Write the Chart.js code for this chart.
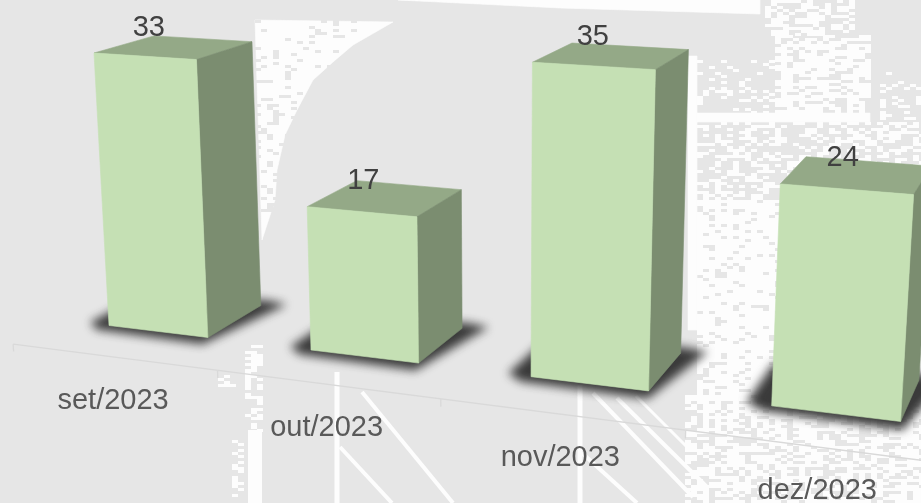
<!DOCTYPE html>
<html>
<head>
<meta charset="utf-8">
<title>3D bars</title>
<script src="https://cdn.jsdelivr.net/npm/chart.js@4"></script>
<style>
    body { margin: 0; background: #e6e6e6; }
    #wrap { width: 921px; height: 503px; overflow: hidden; }
</style>
</head>
<body>
<div id="wrap"><canvas id="barChart" width="921" height="503"></canvas></div>
<script>
const categories = ["set/2023", "out/2023", "nov/2023", "dez/2023"]
const values = [33, 17, 35, 24]

const frontColor = "#c5e0b4"
const topColor = "#94a987"
const sideColor = "#7b8d70"
const valueColor = "#404040"
const axisLabelColor = "#595959"
const axisLineColor = "#d9d9d9"

// camera: category position t, value v, depth z -> screen
const rowX = [109, 189.25, -0.5598, 66.2]
const rowY = [325.5, 10.15, -8.317, -14.5]
const rowW = [1, -0.041, -0.00112, 0.055]
const axisDepth = -0.74

function project(t, v, z){
    const w = rowW[0] + rowW[1] * t + rowW[2] * v + rowW[3] * z
    return {
        x: (rowX[0] + rowX[1] * t + rowX[2] * v + rowX[3] * z) / w,
        y: (rowY[0] + rowY[1] * t + rowY[2] * v + rowY[3] * z) / w
    }
}

function fillPoly(ctx, pts, color){
    ctx.beginPath()
    pts.forEach((p, i) => {
        if(i == 0){ ctx.moveTo(p.x, p.y) }else{ ctx.lineTo(p.x, p.y) }
    })
    ctx.closePath()
    ctx.fillStyle = color
    ctx.fill()
    ctx.strokeStyle = color
    ctx.lineWidth = 0.6
    ctx.stroke()
}

// backdrop picture behind the chart, only a rough copy of it
const paperColor = "#fdfdfd"
const wallColor = "#e6e6e6"
const whitePatches = [
    [[255, 20], [393, 22], [353, 45], [333, 62], [313, 80], [297, 110], [285, 135], [277, 170], [275, 200], [262, 240]],
    [[398, 0], [760, 0], [760, 14], [560, 8]],
    [[690, 113], [870, 113], [870, 122], [690, 122]],
    [[688, 56], [697, 56], [697, 330], [688, 330]]
]
// x, y, w, h, share of cells painted, colour
const speckleAreas = [
    [255, 20, 100, 60, 0.12, wallColor],
    [255, 80, 50, 130, 0.2, wallColor],
    [765, 0, 90, 35, 0.5, paperColor],
    [775, 35, 95, 78, 0.72, paperColor],
    [697, 60, 78, 52, 0.22, paperColor],
    [697, 122, 223, 78, 0.42, paperColor],
    [697, 200, 90, 200, 0.84, paperColor],
    [685, 395, 236, 108, 0.62, paperColor],
    [880, 60, 41, 60, 0.15, paperColor],
    [245, 345, 18, 85, 0.4, paperColor],
    [218, 372, 14, 16, 0.3, paperColor],
    [232, 440, 12, 63, 0.3, paperColor]
]
const whiteLines = [
    [[255, 430], [255, 503], 14],
    [[337, 372], [337, 503], 5],
    [[362, 392], [453, 503], 4],
    [[340, 447], [392, 503], 4],
    [[580, 385], [580, 503], 5],
    [[593, 393], [693, 497], 4],
    [[617, 398], [707, 487], 4],
    [[582, 453], [637, 503], 4],
    [[636, 396], [690, 450], 3]
]

const backdrop = {
    id: "backdrop",
    beforeDraw(chart){
        const ctx = chart.ctx
        ctx.save()
        whitePatches.forEach(patch => {
            fillPoly(ctx, patch.map(p => ({ x: p[0], y: p[1] })), paperColor)
        })
        speckleAreas.forEach(area => {
            ctx.fillStyle = area[5]
            for(var x = area[0]; x < area[0] + area[2]; x += 6){
                for(var y = area[1]; y < area[1] + area[3]; y += 3){
                    // fixed hash so the speckle stays the same every time
                    const hash = Math.abs(Math.sin(x * 12.9898 + y * 78.233) * 43758.5453) % 1
                    if(hash < area[4]){ ctx.fillRect(x, y, 6, 3) }
                }
            }
        })
        ctx.strokeStyle = paperColor
        whiteLines.forEach(line => {
            ctx.lineWidth = line[2]
            ctx.beginPath()
            ctx.moveTo(line[0][0], line[0][1])
            ctx.lineTo(line[1][0], line[1][1])
            ctx.stroke()
        })
        ctx.restore()
    }
}

const bars3d = {
    id: "bars3d",
    // the flat bars are replaced by the boxes below
    beforeDatasetDraw(chart){
        const ctx = chart.ctx
        const meta = chart.getDatasetMeta(0)
        const xScale = chart.scales.x
        const yScale = chart.scales.y
        const catWidth = xScale.width / categories.length
        const boxes = meta.data.map(bar => ({
            t0: (bar.x - bar.width / 2 - xScale.left) / catWidth - 0.25,
            t1: (bar.x + bar.width / 2 - xScale.left) / catWidth - 0.25,
            mid: (bar.x - xScale.left) / catWidth - 0.25,
            v: yScale.getValueForPixel(bar.y),
            base: yScale.getValueForPixel(bar.base)
        }))

        ctx.save()

        // axis line and ticks on the floor
        const tLeft = -0.25
        const tRight = (xScale.right - xScale.left) / catWidth - 0.25
        ctx.strokeStyle = axisLineColor
        ctx.lineWidth = 1.3
        ctx.beginPath()
        const a = project(tLeft, 0, axisDepth)
        const b = project(tRight, 0, axisDepth)
        ctx.moveTo(a.x, a.y)
        ctx.lineTo(b.x, b.y)
        categories.forEach((c, i) => {
            const t = i - 0.25
            const p = project(t, 0, axisDepth)
            const q = project(t, -0.9, axisDepth)
            ctx.moveTo(p.x, p.y)
            ctx.lineTo(q.x, q.y)
        })
        ctx.stroke()

        // soft shadows
        ctx.filter = "blur(5px)"
        boxes.forEach(box => {
            const s = [
                project(box.t0 - 0.1, box.base, 0.02),
                project(box.t0 - 0.02, box.base, -0.13),
                project(box.t1 + 0.02, box.base, -0.17),
                project(box.t1 + 0.1, box.base, 1.1),
                project(box.t1, box.base, 1.15),
                project(box.t0 - 0.1, box.base, 1)
            ]
            fillPoly(ctx, s, "#3a3a3a")
        })
        ctx.filter = "none"

        boxes.forEach(box => {
            fillPoly(ctx, [project(box.t0, box.v, 0), project(box.t0, box.v, 1), project(box.t1, box.v, 1), project(box.t1, box.v, 0)], topColor)
            fillPoly(ctx, [project(box.t1, box.v, 0), project(box.t1, box.v, 1), project(box.t1, box.base, 1), project(box.t1, box.base, 0)], sideColor)
            fillPoly(ctx, [project(box.t0, box.v, 0), project(box.t1, box.v, 0), project(box.t1, box.base, 0), project(box.t0, box.base, 0)], frontColor)
        })

        // value and category labels
        ctx.font = "29px 'Liberation Sans', Arial, sans-serif"
        ctx.textAlign = "center"
        ctx.textBaseline = "middle"
        ctx.fillStyle = valueColor
        boxes.forEach((box, i) => {
            const p = project(box.mid, box.v, 0.2)
            ctx.fillText(String(values[i]), p.x - 8, p.y - 25)
        })
        ctx.fillStyle = axisLabelColor
        boxes.forEach((box, i) => {
            const p = project(box.mid, 0, axisDepth)
            ctx.fillText(categories[i], p.x, p.y + 44)
        })

        ctx.restore()
        return false
    }
}

function showChart(){
    const ctx = document.getElementById("barChart").getContext("2d")
    return new Chart(ctx, {
        type: "bar",
        data: {
            labels: categories,
            datasets: [{
                data: values,
                backgroundColor: frontColor,
                categoryPercentage: 1,
                barPercentage: 0.5
            }]
        },
        options: {
            responsive: false,
            animation: false,
            layout: { padding: 0 },
            plugins: {
                legend: { display: false },
                tooltip: { enabled: false }
            },
            scales: {
                x: { display: false },
                y: { display: false, min: 0, max: 40 }
            }
        },
        plugins: [backdrop, bars3d]
    })
}

showChart()
</script>
</body>
</html>
